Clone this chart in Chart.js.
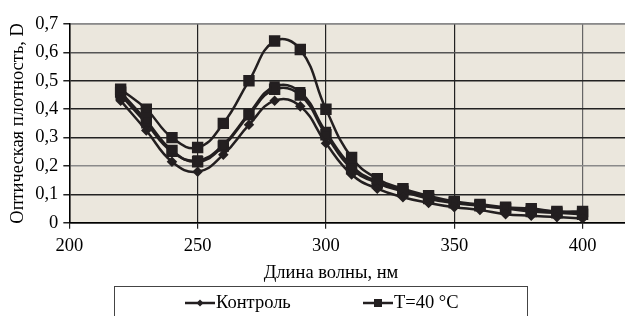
<!DOCTYPE html>
<html>
<head>
<meta charset="utf-8">
<script src="https://cdn.jsdelivr.net/npm/chart.js@4/dist/chart.umd.min.js"></script>
<style>
  html, body { margin: 0; padding: 0; background: #fff; overflow: hidden; }
  #wrap { width: 635px; height: 316px; }
</style>
</head>
<body>
<div id="wrap"><canvas id="spectra"></canvas></div>
<script>
const wavelengths = [220, 230, 240, 250, 260, 270, 280, 290, 300, 310, 320, 330, 340, 350, 360, 370, 380, 390, 400];
const control = [0.43, 0.325, 0.215, 0.18, 0.24, 0.345, 0.43, 0.41, 0.28, 0.17, 0.12, 0.09, 0.07, 0.055, 0.045, 0.03, 0.025, 0.02, 0.015];
const t40 = [0.47, 0.40, 0.30, 0.265, 0.35, 0.50, 0.64, 0.61, 0.40, 0.23, 0.155, 0.12, 0.095, 0.075, 0.065, 0.055, 0.05, 0.04, 0.04];
const seriesC = [0.46, 0.36, 0.255, 0.215, 0.27, 0.38, 0.47, 0.45, 0.31, 0.19, 0.14, 0.11, 0.085, 0.07, 0.06, 0.05, 0.04, 0.035, 0.03];
const seriesD = [0.45, 0.35, 0.25, 0.22, 0.275, 0.385, 0.48, 0.46, 0.32, 0.20, 0.145, 0.115, 0.09, 0.072, 0.062, 0.052, 0.045, 0.04, 0.035];
const seriesNames = ['Контроль', 'T=40 °C', 'Серия 3', 'Серия 4'];
const xTicks = [200, 250, 300, 350, 400];
const xTitle = 'Длина волны, нм';
const yTitle = 'Оптическая плотность, D';

const ink = '#231f20';
const serif = '"Liberation Serif", "Times New Roman", serif';
const fs = 18.5;

function pts(ys) {
  return ys.map((y, i) => ({ x: wavelengths[i], y: y }));
}

// background of the plot, the x title and the boxed legend (only first two entries visible)
const extras = {
  id: 'extras',
  beforeDraw(chart) {
    const a = chart.chartArea, ctx = chart.ctx;
    ctx.save();
    ctx.fillStyle = '#ebe7dd';
    ctx.fillRect(a.left, a.top, a.right - a.left, a.bottom - a.top);
    ctx.strokeStyle = '#9a9a9a';
    ctx.lineWidth = 1.5;
    ctx.beginPath(); ctx.moveTo(a.left, a.top); ctx.lineTo(a.right, a.top); ctx.stroke();
    ctx.restore();
  },
  afterDraw(chart) {
    const ctx = chart.ctx;
    ctx.save();
    ctx.fillStyle = '#000';
    ctx.font = fs + 'px ' + serif;
    ctx.textAlign = 'center';
    ctx.textBaseline = 'middle';
    ctx.fillText(xTitle, 331, 273);

    ctx.strokeStyle = '#444';
    ctx.lineWidth = 1;
    ctx.strokeRect(114.5, 286.5, 413, 40);

    const items = [
      { x0: 185, ds: chart.data.datasets[0] },
      { x0: 363, ds: chart.data.datasets[1] }
    ];
    const y = 303;
    items.forEach(it => {
      ctx.strokeStyle = ink; ctx.fillStyle = ink; ctx.lineWidth = 2.5;
      ctx.beginPath(); ctx.moveTo(it.x0, y); ctx.lineTo(it.x0 + 30, y); ctx.stroke();
      const cx = it.x0 + 15;
      if (it.ds.pointStyle === 'rect') {
        ctx.fillRect(cx - 4, y - 4, 8, 8);
      } else {
        ctx.beginPath(); ctx.moveTo(cx, y - 3.5); ctx.lineTo(cx + 3.5, y); ctx.lineTo(cx, y + 3.5); ctx.lineTo(cx - 3.5, y); ctx.closePath(); ctx.fill();
      }
      ctx.fillStyle = '#000';
      ctx.textAlign = 'left';
      ctx.fillText(it.ds.label, it.x0 + 31, y);
    });
    ctx.restore();
  }
};

const mk = (label, data, style, r) => ({
  label: label,
  data: pts(data),
  borderColor: ink,
  backgroundColor: ink,
  borderWidth: 2.5,
  pointStyle: style,
  pointRadius: r,
  pointHoverRadius: r,
  tension: 0.45
});

new Chart(document.getElementById('spectra'), {
  type: 'line',
  data: {
    datasets: [
      mk(seriesNames[0], control, 'rectRot', 3.5),
      mk(seriesNames[1], t40, 'rect', 6.3),
      mk(seriesNames[2], seriesC, 'rect', 6.3),
      mk(seriesNames[3], seriesD, 'rect', 5.5)
    ]
  },
  options: {
    responsive: true,
    maintainAspectRatio: false,
    animation: false,
    layout: { padding: { left: 7, right: 0, top: 24, bottom: 53 } },
    plugins: {
      tooltip: { enabled: false },
      legend: { display: false }
    },
    scales: {
      x: {
        type: 'linear',
        min: 200,
        max: 417,
        afterBuildTicks: (s) => { s.ticks = xTicks.map(v => ({ value: v })); },
        grid: { color: (c) => c.tick && c.tick.value === 400 ? '#666' : '#222', lineWidth: 1.2, tickLength: 6, tickColor: '#222' },
        border: { color: '#000', width: 1.5 },
        ticks: { color: '#000', font: { family: serif, size: fs }, padding: 6, maxRotation: 0 }
      },
      y: {
        min: 0,
        max: 0.7,
        ticks: {
          stepSize: 0.1,
          color: '#000',
          font: { family: serif, size: fs },
          padding: 5,
          callback: (v) => v === 0 ? '0' : v.toFixed(1).replace('.', ',')
        },
        grid: { color: (c) => { const v = c.tick ? Math.round(c.tick.value * 10) : 0; return v === 2 || v === 7 ? '#8a8a8a' : (v === 6 ? '#555' : '#222'); }, lineWidth: 1.5, tickLength: 6, tickColor: '#222' },
        border: { color: '#000', width: 1.5 },
        title: { display: true, text: yTitle, color: '#000', font: { family: serif, size: fs }, padding: { top: 0, bottom: 1 } }
      }
    }
  },
  plugins: [extras]
});
</script>
</body>
</html>
